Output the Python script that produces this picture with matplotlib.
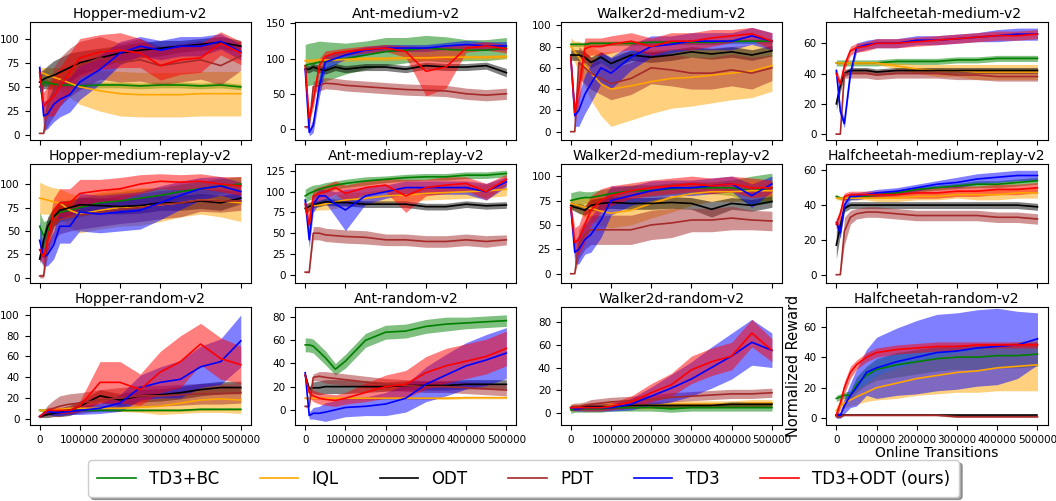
import numpy as np
import matplotlib
matplotlib.use('Agg')
import matplotlib.pyplot as plt

steps = [0, 10000, 20000, 35000, 50000, 75000, 100000, 150000, 200000,
         250000, 300000, 350000, 400000, 450000, 500000]

methods = ['TD3+BC', 'IQL', 'ODT', 'PDT', 'TD3', 'TD3+ODT (ours)']
colors = ['green', 'orange', 'black', 'brown', 'blue', 'red']

# rows follow the order of `methods`
hopper_medium_mean = [
    [50, 55, 54, 53, 52, 52, 51, 52, 52, 51, 52, 52, 51, 52, 50],
    [65, 64, 62, 60, 58, 54, 50, 46, 43, 42, 42, 42, 43, 43, 43],
    [55, 58, 60, 62, 65, 70, 75, 80, 85, 88, 90, 92, 94, 96, 92],
    [2, 2, 30, 45, 55, 65, 72, 80, 75, 78, 72, 75, 78, 72, 82],
    [70, 20, 22, 32, 37, 42, 55, 68, 85, 92, 88, 92, 92, 97, 86],
    [65, 30, 35, 40, 50, 65, 80, 86, 88, 85, 72, 78, 80, 95, 85],
]
hopper_medium_std = [
    [8, 4, 3, 3, 3, 3, 3, 3, 3, 3, 3, 3, 3, 3, 3],
    [5, 6, 8, 10, 12, 15, 18, 21, 23, 23, 23, 23, 23, 23, 23],
    [10, 10, 12, 15, 15, 15, 12, 10, 8, 8, 8, 6, 6, 6, 6],
    [0, 0, 20, 25, 25, 25, 25, 22, 20, 22, 20, 20, 20, 20, 15],
    [5, 15, 15, 18, 18, 18, 18, 15, 12, 10, 10, 10, 10, 8, 8],
    [5, 15, 15, 20, 20, 20, 20, 18, 18, 15, 15, 15, 15, 12, 12],
]

ant_medium_mean = [
    [90, 92, 93, 95, 96, 98, 100, 105, 110, 112, 115, 113, 112, 112, 115],
    [97, 97, 97, 98, 98, 98, 99, 100, 100, 101, 101, 102, 102, 102, 103],
    [85, 85, 88, 85, 83, 88, 85, 88, 88, 85, 90, 88, 88, 90, 80],
    [3, 3, 60, 62, 65, 64, 62, 60, 58, 56, 55, 54, 50, 48, 50],
    [85, -5, 5, 60, 95, 100, 105, 112, 115, 115, 115, 118, 120, 118, 118],
    [90, 15, 40, 90, 103, 108, 110, 113, 115, 110, 82, 88, 115, 118, 114],
]
ant_medium_std = [
    [30, 30, 30, 30, 28, 25, 22, 20, 20, 18, 18, 18, 15, 15, 15],
    [3, 3, 3, 3, 3, 3, 3, 3, 3, 3, 3, 3, 3, 3, 3],
    [5, 5, 5, 5, 5, 5, 5, 5, 5, 5, 5, 5, 5, 5, 6],
    [2, 2, 8, 8, 8, 8, 8, 8, 8, 8, 8, 8, 8, 8, 8],
    [5, 5, 10, 15, 10, 8, 6, 5, 5, 5, 5, 5, 6, 6, 6],
    [5, 5, 10, 10, 8, 5, 5, 5, 5, 8, 35, 30, 6, 6, 6],
]

walker_medium_mean = [
    [82, 82, 82, 82, 83, 83, 83, 83, 84, 84, 84, 84, 85, 85, 85],
    [80, 75, 70, 62, 55, 45, 40, 43, 47, 50, 51, 53, 55, 57, 62],
    [72, 72, 72, 70, 65, 70, 64, 72, 70, 72, 75, 73, 75, 72, 76],
    [0, 0, 65, 60, 55, 50, 45, 50, 60, 58, 55, 55, 58, 55, 60],
    [70, 15, 20, 35, 45, 60, 55, 70, 80, 82, 85, 85, 85, 90, 85],
    [70, 18, 40, 78, 80, 80, 82, 85, 80, 85, 85, 88, 90, 92, 85],
]
walker_medium_std = [
    [2, 2, 2, 2, 2, 2, 2, 2, 2, 2, 2, 2, 2, 2, 2],
    [8, 10, 15, 20, 25, 30, 35, 32, 30, 28, 27, 26, 25, 25, 24],
    [5, 5, 5, 5, 5, 5, 5, 5, 5, 5, 5, 5, 5, 5, 5],
    [0, 0, 15, 15, 15, 15, 15, 15, 15, 15, 15, 15, 15, 15, 12],
    [5, 10, 15, 18, 18, 15, 15, 12, 10, 8, 8, 8, 8, 8, 8],
    [5, 8, 15, 10, 8, 8, 8, 8, 8, 8, 8, 8, 6, 6, 8],
]

cheetah_medium_mean = [
    [47, 47, 47, 47, 47, 47, 47, 48, 48, 48, 49, 49, 50, 50, 50],
    [47, 47, 47, 47, 47, 47, 47, 45, 43, 42, 42, 41, 41, 41, 41],
    [20, 32, 40, 42, 42, 42, 41, 42, 42, 42, 42, 42, 42, 42, 42],
    [0, 0, 40, 40, 40, 40, 39, 40, 40, 40, 39, 39, 38, 38, 38],
    [42, 15, 7, 40, 57, 59, 60, 60, 62, 62, 63, 64, 65, 66, 66],
    [40, 33, 45, 55, 57, 58, 60, 60, 61, 62, 63, 64, 65, 65, 66],
]
cheetah_medium_std = [
    [2, 2, 2, 2, 2, 2, 2, 2, 2, 2, 2, 2, 2, 2, 2],
    [1, 1, 1, 1, 1, 1, 1, 2, 3, 4, 4, 5, 5, 5, 5],
    [4, 4, 2, 2, 2, 2, 2, 2, 2, 2, 2, 2, 2, 2, 2],
    [0, 0, 3, 3, 3, 3, 3, 3, 3, 3, 3, 3, 3, 3, 3],
    [3, 3, 3, 3, 3, 3, 3, 3, 3, 3, 3, 3, 4, 4, 4],
    [3, 3, 3, 3, 3, 3, 3, 3, 3, 3, 3, 3, 3, 3, 3],
]

hopper_replay_mean = [
    [55, 45, 50, 65, 70, 72, 75, 80, 82, 85, 88, 92, 95, 98, 100],
    [85, 84, 83, 81, 80, 72, 68, 72, 75, 76, 78, 80, 83, 82, 80],
    [20, 40, 55, 65, 72, 75, 78, 77, 76, 77, 80, 80, 82, 80, 85],
    [2, 2, 40, 55, 62, 65, 67, 70, 73, 75, 78, 80, 83, 82, 82],
    [40, 22, 25, 35, 55, 55, 70, 68, 70, 72, 80, 88, 95, 98, 92],
    [30, 22, 40, 70, 80, 80, 90, 93, 95, 100, 103, 102, 103, 100, 98],
]
hopper_replay_std = [
    [15, 15, 12, 10, 10, 10, 10, 10, 10, 10, 8, 8, 8, 8, 8],
    [17, 16, 15, 15, 15, 18, 20, 20, 20, 20, 18, 15, 15, 17, 20],
    [5, 8, 10, 10, 10, 8, 8, 8, 8, 8, 8, 8, 8, 8, 6],
    [2, 2, 15, 15, 15, 15, 15, 15, 15, 15, 15, 15, 12, 12, 10],
    [20, 10, 12, 15, 18, 18, 20, 20, 20, 20, 18, 15, 12, 10, 10],
    [10, 8, 12, 15, 15, 15, 15, 12, 12, 10, 8, 8, 8, 8, 10],
]

ant_replay_mean = [
    [95, 98, 100, 103, 105, 108, 110, 113, 115, 117, 118, 118, 120, 120, 122],
    [80, 82, 83, 84, 85, 88, 90, 92, 95, 96, 98, 99, 100, 101, 103],
    [80, 82, 85, 86, 88, 87, 87, 85, 85, 85, 82, 82, 85, 83, 84],
    [3, 3, 50, 50, 48, 47, 46, 45, 42, 42, 40, 40, 42, 40, 42],
    [90, 42, 85, 95, 95, 85, 78, 95, 100, 105, 105, 105, 105, 100, 112],
    [85, 60, 95, 98, 100, 105, 98, 105, 108, 95, 105, 108, 110, 100, 115],
]
ant_replay_std = [
    [8, 8, 8, 6, 6, 5, 5, 5, 4, 4, 4, 4, 4, 4, 4],
    [6, 6, 6, 6, 7, 8, 8, 8, 8, 8, 8, 8, 8, 8, 8],
    [5, 5, 4, 4, 4, 4, 4, 4, 4, 4, 4, 4, 4, 4, 4],
    [1, 1, 8, 8, 8, 8, 8, 8, 7, 7, 7, 7, 7, 7, 6],
    [5, 10, 10, 8, 8, 15, 25, 10, 8, 8, 8, 8, 8, 10, 6],
    [5, 15, 8, 8, 8, 8, 10, 8, 8, 20, 10, 10, 8, 10, 6],
]

walker_replay_mean = [
    [75, 76, 77, 78, 78, 80, 82, 85, 85, 87, 88, 88, 88, 85, 88],
    [72, 71, 70, 68, 67, 64, 62, 65, 72, 78, 82, 84, 84, 85, 85],
    [70, 68, 67, 65, 70, 72, 73, 72, 72, 73, 72, 66, 72, 70, 74],
    [0, 0, 30, 40, 45, 45, 45, 45, 50, 52, 55, 55, 57, 55, 54],
    [68, 22, 25, 35, 40, 55, 75, 80, 85, 88, 88, 90, 92, 80, 92],
    [68, 32, 35, 50, 65, 75, 80, 85, 88, 90, 92, 90, 92, 88, 88],
]
walker_replay_std = [
    [8, 8, 8, 6, 6, 6, 6, 6, 6, 6, 6, 6, 8, 15, 15],
    [5, 6, 8, 10, 12, 15, 15, 15, 15, 15, 12, 10, 10, 10, 10],
    [4, 4, 5, 5, 6, 6, 6, 6, 6, 6, 6, 8, 6, 6, 6],
    [0, 0, 15, 15, 15, 15, 15, 15, 15, 15, 12, 12, 12, 10, 10],
    [5, 12, 15, 15, 18, 18, 15, 10, 10, 8, 8, 8, 8, 12, 8],
    [5, 15, 15, 18, 15, 12, 10, 8, 8, 8, 8, 8, 8, 10, 8],
]

cheetah_replay_mean = [
    [45, 44, 44, 44, 45, 45, 46, 47, 49, 50, 51, 52, 52, 53, 54],
    [44, 44, 44, 44, 44, 44, 44, 44, 45, 45, 46, 46, 46, 47, 47],
    [17, 28, 38, 40, 40, 40, 40, 40, 40, 40, 40, 40, 40, 40, 39],
    [0, 0, 25, 33, 35, 36, 36, 35, 34, 34, 34, 34, 33, 33, 32],
    [30, 24, 40, 45, 45, 46, 47, 48, 50, 52, 53, 55, 56, 57, 57],
    [29, 35, 45, 46, 46, 46, 46, 46, 47, 47, 48, 48, 49, 49, 50],
]
cheetah_replay_std = [
    [1, 1, 1, 1, 1, 1, 1.5, 1.5, 1.5, 1.5, 1.5, 2, 2, 2, 2],
    [1, 1, 1, 1, 1, 1, 2, 2, 2, 2, 2, 3, 3, 3, 3],
    [8, 5, 2, 2, 2, 2, 2, 2, 2, 2, 2, 2, 2, 2, 2],
    [0, 0, 8, 4, 3, 3, 3, 3, 3, 3, 3, 3, 3, 3, 3],
    [3, 3, 3, 2, 2, 2, 2, 2, 2, 2, 3, 3, 3, 3, 3],
    [3, 3, 2, 2, 2, 2, 2, 2, 3, 3, 3, 3, 3, 3, 3],
]

hopper_random_mean = [
    [8, 8, 8, 8, 8, 8, 8, 8, 8, 8, 8, 8, 9, 9, 9],
    [8, 8, 8, 9, 9, 10, 10, 10, 10, 11, 12, 15, 18, 19, 18],
    [2, 3, 4, 5, 6, 8, 12, 22, 18, 22, 23, 25, 28, 30, 30],
    [2, 5, 8, 10, 12, 14, 15, 18, 20, 22, 22, 23, 24, 24, 25],
    [2, 5, 7, 6, 6, 7, 8, 10, 15, 30, 35, 38, 50, 55, 75],
    [2, 5, 8, 8, 8, 8, 12, 35, 35, 28, 45, 55, 72, 58, 52],
]
hopper_random_std = [
    [1, 1, 1, 1, 1, 1, 1, 1, 1, 1, 1, 1, 1, 1, 1],
    [1, 1, 1, 1, 1, 2, 2, 2, 3, 5, 8, 10, 12, 13, 13],
    [1, 2, 3, 3, 4, 5, 5, 6, 6, 6, 6, 6, 6, 6, 6],
    [1, 3, 5, 8, 10, 10, 10, 10, 10, 10, 10, 10, 10, 10, 10],
    [1, 2, 3, 3, 3, 3, 4, 5, 8, 12, 15, 18, 20, 22, 25],
    [1, 2, 3, 3, 3, 3, 5, 20, 20, 15, 20, 25, 20, 20, 18],
]

ant_random_mean = [
    [56, 56, 55, 50, 45, 35, 42, 60, 67, 68, 72, 74, 75, 76, 77],
    [10, 10, 10, 10, 10, 10, 10, 10, 10, 10, 10, 10, 10.5, 10.5, 10.5],
    [30, 18, 19, 19, 20, 20, 20, 20, 20, 21, 21, 21, 22, 22, 22],
    [3, 3, 28, 29, 28, 27, 26, 24, 22, 21, 20, 20, 19, 18, 17],
    [32, -5, -3, -3, -2, 0, 2, 3, 5, 10, 22, 30, 38, 43, 49],
    [30, 15, 12, 10, 9, 8, 10, 15, 20, 22, 32, 38, 42, 46, 53],
]
ant_random_std = [
    [6, 6, 6, 6, 6, 5, 6, 6, 6, 6, 6, 6, 5, 5, 5],
    [1, 1, 1, 1, 1, 1, 1, 1, 1, 1, 1, 1, 1, 1, 1],
    [2, 2, 5, 6, 6, 6, 6, 5, 4, 4, 4, 4, 4, 4, 4],
    [1, 1, 3, 4, 5, 5, 5, 5, 5, 5, 5, 5, 5, 5, 5],
    [2, 3, 5, 6, 8, 8, 8, 8, 10, 12, 15, 18, 20, 22, 22],
    [2, 4, 5, 5, 5, 5, 5, 8, 10, 12, 14, 15, 15, 15, 15],
]

walker_random_mean = [
    [3, 4, 4, 4, 4, 4, 5, 5, 5, 4, 5, 5, 5, 5, 5],
    [5, 5, 5, 6, 6, 6, 7, 7, 7, 8, 8, 8, 8, 9, 9],
    [5, 5, 5, 6, 6, 6, 6, 7, 7, 7, 7, 7, 8, 8, 8],
    [5, 6, 6, 7, 8, 9, 10, 11, 12, 14, 15, 16, 17, 17, 18],
    [5, 4, 4, 5, 5, 5, 5, 8, 15, 22, 30, 40, 50, 62, 55],
    [5, 5, 5, 5, 5, 5, 6, 10, 18, 25, 38, 45, 50, 70, 55],
]
walker_random_std = [
    [3, 3, 3, 3, 3, 3, 3, 3, 3, 3, 3, 3, 3, 3, 3],
    [3, 3, 3, 3, 3, 3, 3, 3, 3, 3, 3, 3, 3, 3, 3],
    [2, 2, 2, 2, 2, 2, 2, 2, 2, 2, 2, 2, 2, 2, 2],
    [3, 3, 3, 3, 4, 4, 4, 4, 4, 4, 4, 4, 4, 4, 4],
    [2, 2, 2, 3, 3, 3, 3, 5, 8, 12, 15, 18, 20, 20, 15],
    [2, 2, 2, 3, 3, 3, 3, 5, 8, 10, 12, 12, 12, 12, 10],
]

cheetah_random_mean = [
    [13, 14, 15, 15, 22, 28, 32, 35, 37, 39, 40, 40, 41, 41, 42],
    [5, 8, 10, 12, 14, 17, 20, 23, 26, 28, 30, 31, 33, 34, 35],
    [2, 2, 2, 2, 2, 2, 2, 2, 2, 2, 2, 2, 2, 2, 2],
    [1, 1, 2, 2, 2, 2, 2, 2, 2, 2, 1, 1, 1, 1, 1],
    [2, 2, 8, 15, 20, 30, 33, 37, 40, 43, 44, 46, 47, 48, 52],
    [2, 10, 20, 30, 35, 40, 43, 45, 46, 47, 47, 48, 48, 48, 48],
]
cheetah_random_std = [
    [2, 2, 2, 3, 5, 6, 7, 8, 8, 8, 8, 8, 8, 8, 8],
    [3, 3, 3, 4, 5, 6, 8, 10, 11, 12, 13, 14, 15, 16, 17],
    [0.3] * 15,
    [0.5] * 15,
    [2, 2, 5, 8, 12, 15, 20, 22, 24, 25, 25, 25, 25, 22, 17],
    [2, 3, 4, 4, 3, 3, 3, 3, 3, 3, 3, 2, 2, 2, 2],
]

panels = [
    ('Hopper-medium-v2', hopper_medium_mean, hopper_medium_std, (-5, 117), [0, 25, 50, 75, 100]),
    ('Ant-medium-v2', ant_medium_mean, ant_medium_std, (-16, 152), [0, 50, 100, 150]),
    ('Walker2d-medium-v2', walker_medium_mean, walker_medium_std, (-8, 103), [0, 20, 40, 60, 80, 100]),
    ('Halfcheetah-medium-v2', cheetah_medium_mean, cheetah_medium_std, (-4, 74), [0, 20, 40, 60]),
    ('Hopper-medium-replay-v2', hopper_replay_mean, hopper_replay_std, (-5, 121), [0, 25, 50, 75, 100]),
    ('Ant-medium-replay-v2', ant_replay_mean, ant_replay_std, (-9.5, 133), [0, 25, 50, 75, 100, 125]),
    ('Walker2d-medium-replay-v2', walker_replay_mean, walker_replay_std, (-9, 112), [0, 25, 50, 75, 100]),
    ('Halfcheetah-medium-replay-v2', cheetah_replay_mean, cheetah_replay_std, (-4.5, 63.4), [0, 20, 40, 60]),
    ('Hopper-random-v2', hopper_random_mean, hopper_random_std, (-6, 108), [0, 20, 40, 60, 80, 100]),
    ('Ant-random-v2', ant_random_mean, ant_random_std, (-13, 89), [0, 20, 40, 60, 80]),
    ('Walker2d-random-v2', walker_random_mean, walker_random_std, (-10, 93), [0, 20, 40, 60, 80]),
    ('Halfcheetah-random-v2', cheetah_random_mean, cheetah_random_std, (-4.3, 73), [0, 20, 40, 60]),
]

fig, axes = plt.subplots(3, 4, figsize=(10.56, 5.01), dpi=100, sharex=True)
plt.subplots_adjust(left=0.028, right=0.992, top=0.956, bottom=0.152,
                    wspace=0.2, hspace=0.205)

x = np.array(steps)
for ax, (title, means, stds, ylim, yticks) in zip(axes.flat, panels):
    for mean, std, color, name in zip(means, stds, colors, methods):
        m = np.array(mean, dtype=float)
        s = np.array(std, dtype=float)
        ax.fill_between(x, m - s, m + s, color=color, alpha=0.5, linewidth=0)
        ax.plot(x, m, color=color, linewidth=1.2, label=name)
    ax.set_title(title, fontsize=10.1, pad=3)
    ax.set_ylim(*ylim)
    ax.set_yticks(yticks)
    ax.tick_params(labelsize=7.5)

axes[-1, 0].set_xticks([0, 100000, 200000, 300000, 400000, 500000])
axes[-1, 0].set_xticklabels(['0', '100000', '200000', '300000', '400000', '500000'])
axes[-1, -1].set_ylabel('Normalized Reward', fontsize=10.5, labelpad=2)
axes[-1, -1].set_xlabel('Online Transitions', fontsize=10, labelpad=1)

handles, labels = axes[0, 0].get_legend_handles_labels()
fig.legend(handles, labels, loc='lower center', bbox_to_anchor=(0.496, -0.008),
           ncol=6, fontsize=12, handlelength=2.3, columnspacing=2.45,
           shadow=True, borderpad=0.55)

plt.savefig('out.png', dpi=100)
